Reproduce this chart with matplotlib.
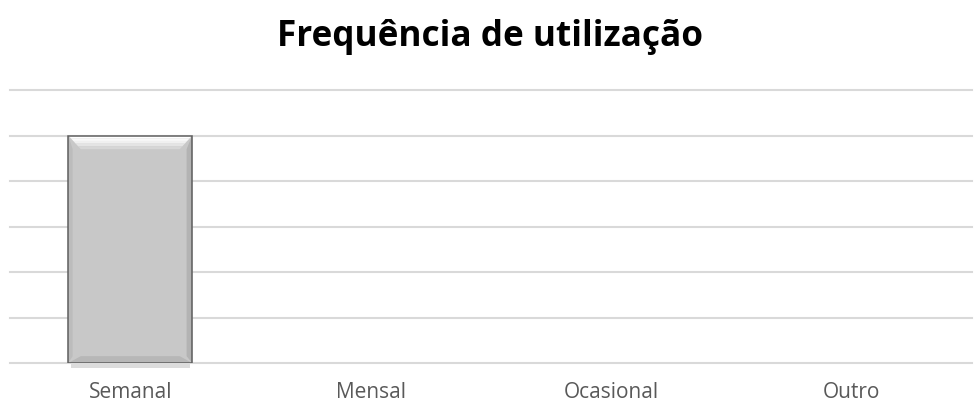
import numpy as np
import matplotlib.pyplot as plt
from matplotlib.patches import Polygon, Rectangle

categorias = ['Semanal', 'Mensal', 'Ocasional', 'Outro']
valores = [5, 0, 0, 0]

plt.rcParams['font.family'] = ['Open Sans', 'DejaVu Sans']

fig = plt.figure(figsize=(9.8, 4.05), dpi=100)
ax = fig.add_axes([10 / 980, 1 - 363 / 405, 962 / 980, 273 / 405])

x = np.arange(len(categorias))
bars = ax.bar(x, valores, width=0.515, color='#c8c8c8', edgecolor='none', zorder=3)

# bevel look on each non-empty bar, built from the bar geometry
for b in bars:
    h = b.get_height()
    if h <= 0:
        continue
    x0, w = b.get_x(), b.get_width()
    x1 = x0 + w
    dx = w * 0.1
    dy = 0.3
    # top bevel as a few bands, light to bar grey
    shades = ['#ffffff', '#f9f9f9', '#f0f0f0', '#e4e4e4', '#d6d6d6']
    n = len(shades)
    for i, c in enumerate(shades):
        f0, f1 = i / n, (i + 1) / n
        ax.add_patch(Polygon([(x0 + dx * f0, h - dy * f0), (x1 - dx * f0, h - dy * f0),
                              (x1 - dx * f1, h - dy * f1), (x0 + dx * f1, h - dy * f1)],
                             closed=True, color=c, lw=0, zorder=4))
    bdy = dy * 0.5
    ax.add_patch(Polygon([(x0, 0), (x1, 0), (x1 - dx, bdy), (x0 + dx, bdy)],
                         closed=True, color='#b7b7b7', lw=0, zorder=4))
    ax.add_patch(Polygon([(x1, h), (x1, 0), (x1 - dx * 0.45, bdy), (x1 - dx * 0.45, h - dy)],
                         closed=True, color='#b3b3b3', lw=0, zorder=4))
    ax.add_patch(Polygon([(x0, h), (x0, 0), (x0 + dx * 0.35, bdy), (x0 + dx * 0.35, h - dy)],
                         closed=True, color='#bcbcbc', lw=0, zorder=4))
    # soft shadow under the bar
    ax.add_patch(Rectangle((x0 + dx * 0.2, -0.12), w - dx * 0.4, 0.12, color='#dcdcdc',
                           lw=0, zorder=2, clip_on=False))
    ax.add_patch(Rectangle((x0, 0), w, h, fill=False, edgecolor='#5e5e5e', lw=1.1, zorder=5))

ax.set_xlim(-0.5, len(categorias) - 0.5)
ax.set_ylim(0, 6)
ax.set_yticks(np.arange(0, 7, 1))
ax.yaxis.grid(True, color='#d9d9d9', lw=1.5, zorder=0)
for gl in ax.get_ygridlines():
    gl.set_clip_on(False)
ax.tick_params(axis='y', length=0, labelleft=False)
ax.tick_params(axis='x', length=0, pad=14, labelsize=15, labelcolor='#595959')
ax.set_xticks(x)
ax.set_xticklabels(categorias)
for s in ax.spines.values():
    s.set_visible(False)

fig.text(0.5, 1 - 37 / 405, 'Frequência de utilização', ha='center', va='center',
         fontsize=25.3, fontweight='bold', color='#000000')

fig.savefig('out.png', dpi=100)
